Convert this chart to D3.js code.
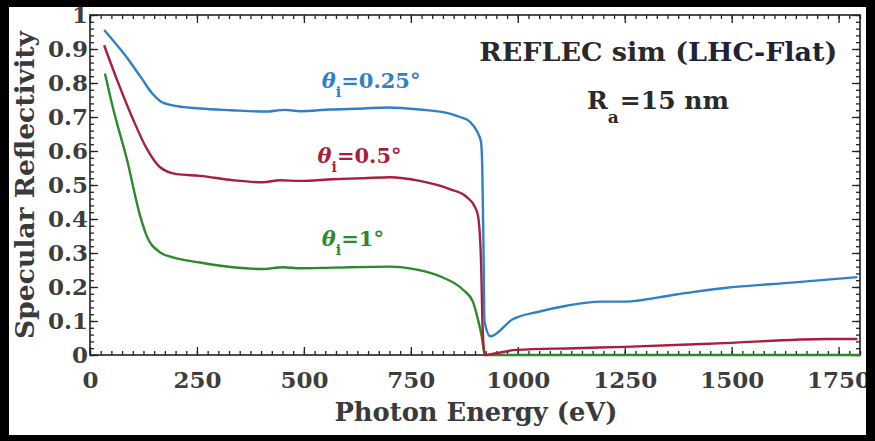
<!DOCTYPE html>
<html>
<head>
<meta charset="utf-8">
<script src="https://cdn.jsdelivr.net/npm/d3@7"></script>
<style>
body { margin: 0; background: #000; }
svg text { font-family: "DejaVu Serif", serif; font-weight: bold; }
</style>
</head>
<body>
<div id="graph"></div>
<script>
// values (photon energy in eV, reflectivity 0..1)
var energy025 = [33, 80, 120, 145, 163, 190, 257, 330, 409, 456, 491, 561, 640, 694, 771, 841, 865, 888, 905, 914, 917, 920, 922, 936, 988, 1051, 1114, 1192, 1250, 1370, 1484, 1640, 1794];
var refl025   = [0.956, 0.885, 0.815, 0.77, 0.748, 0.735, 0.725, 0.72, 0.716, 0.721, 0.717, 0.722, 0.725, 0.728, 0.722, 0.71, 0.70, 0.686, 0.657, 0.627, 0.55, 0.3, 0.1, 0.055, 0.105, 0.128, 0.145, 0.157, 0.157, 0.178, 0.197, 0.213, 0.229];

var energy05 = [33, 63, 100, 133, 163, 203, 257, 334, 404, 444, 491, 568, 640, 701, 771, 841, 881, 900, 907, 914, 918, 923, 940, 997, 1133, 1250, 1484, 1724, 1794];
var refl05   = [0.911, 0.81, 0.695, 0.606, 0.553, 0.532, 0.527, 0.514, 0.508, 0.514, 0.512, 0.517, 0.52, 0.523, 0.512, 0.488, 0.464, 0.435, 0.41, 0.28, 0.074, 0.0, 0.003, 0.015, 0.02, 0.024, 0.035, 0.047, 0.047];

var energy1 = [35, 54, 86, 117, 133, 164, 194, 257, 334, 404, 451, 491, 568, 701, 764, 825, 872, 895, 907, 916, 923, 1000, 1200, 1400, 1600, 1800];
var refl1   = [0.828, 0.725, 0.577, 0.41, 0.349, 0.302, 0.287, 0.272, 0.258, 0.253, 0.258, 0.255, 0.257, 0.26, 0.251, 0.228, 0.192, 0.157, 0.104, 0.053, 0, 0, 0, 0, 0, 0];

var xTicks = [0, 250, 500, 750, 1000, 1250, 1500, 1750];
var yTicks = [0, 0.1, 0.2, 0.3, 0.4, 0.5, 0.6, 0.7, 0.8, 0.9, 1];

var seriesNames = ["1", "0.5", "0.25"];   // incidence angle, degrees
var seriesColors = ["#2b8a2b", "#a81f3d", "#2f80c8"];

var W = 875, H = 441;
var plotL = 90, plotR = 860, plotT = 15, plotB = 355;

var svg = d3.select("#graph").append("svg")
        .attr("width", W)
        .attr("height", H);

svg.append("rect").attr("width", W).attr("height", H).attr("fill", "#000");

svg.append("clipPath").attr("id", "paper")
        .append("rect").attr("x", 9).attr("y", 7).attr("width", 857).attr("height", 428);

var g = svg.append("g").attr("clip-path", "url(#paper)");
g.append("rect").attr("x", 9).attr("y", 7).attr("width", 857).attr("height", 428).attr("fill", "#fff");

var x = d3.scaleLinear().domain([0, 1800]).range([plotL, plotR]);
var y = d3.scaleLinear().domain([0, 1]).range([plotB, plotT]);

var xMinor = d3.range(0, 1801, 25);
var yMinor = d3.range(0, 51).map(function (i) { return i * 0.02; });

// minor ticks on all four sides
function minor(axis, tx, ty) {
    g.append("g").attr("class", "minor")
            .attr("transform", "translate(" + tx + "," + ty + ")")
            .call(axis.tickSizeInner(-4).tickSizeOuter(0).tickFormat(""));
}
minor(d3.axisBottom(x).tickValues(xMinor), 0, plotB);
minor(d3.axisTop(x).tickValues(xMinor), 0, plotT);
minor(d3.axisLeft(y).tickValues(yMinor), plotL, 0);
minor(d3.axisRight(y).tickValues(yMinor), plotR, 0);

var fmt = d3.format("~g");

g.append("g").attr("class", "major")
        .attr("transform", "translate(0," + plotB + ")")
        .call(d3.axisBottom(x).tickValues(xTicks).tickSizeInner(-8).tickSizeOuter(0).tickPadding(17).tickFormat(fmt));
g.append("g").attr("class", "major")
        .attr("transform", "translate(0," + plotT + ")")
        .call(d3.axisTop(x).tickValues(xTicks).tickSizeInner(-8).tickSizeOuter(0).tickFormat(""));
g.append("g").attr("class", "major")
        .attr("transform", "translate(" + plotL + ",0)")
        .call(d3.axisLeft(y).tickValues(yTicks).tickSizeInner(-8).tickSizeOuter(0).tickPadding(2).tickFormat(fmt));
g.append("g").attr("class", "major")
        .attr("transform", "translate(" + plotR + ",0)")
        .call(d3.axisRight(y).tickValues(yTicks).tickSizeInner(-8).tickSizeOuter(0).tickFormat(""));

g.selectAll(".minor .domain, .major .domain").remove();
g.selectAll(".minor line, .major line").attr("stroke", "#222").attr("stroke-width", 1.3);
g.selectAll(".major text")
        .attr("fill", "#3d3d3d")
        .style("font-size", "23px")
        .style("font-family", "'DejaVu Serif', serif");

g.append("rect")
        .attr("x", plotL).attr("y", plotT)
        .attr("width", plotR - plotL).attr("height", plotB - plotT)
        .attr("fill", "none").attr("stroke", "#222").attr("stroke-width", 1.6);

// the three curves, green first so blue sits on top
var line = d3.line()
        .x(function (d) { return x(d[0]); })
        .y(function (d) { return y(d[1]); })
        .curve(d3.curveMonotoneX);

var series = [d3.zip(energy1, refl1), d3.zip(energy05, refl05), d3.zip(energy025, refl025)];
series.forEach(function (pts, i) {
    g.append("path")
            .datum(pts)
            .attr("fill", "none")
            .attr("stroke", seriesColors[i])
            .attr("stroke-width", 2.4)
            .attr("stroke-linejoin", "round")
            .attr("d", line);
});

// curve labels, placed in data units
var labelE = [542, 532, 542];
var labelR = [0.32, 0.565, 0.785];
seriesNames.forEach(function (name, i) {
    var t = g.append("text")
            .attr("x", x(labelE[i]))
            .attr("y", y(labelR[i]))
            .attr("fill", seriesColors[i])
            .style("font-size", "21px");
    t.append("tspan").text("θ").style("font-style", "italic");
    t.append("tspan").text("i").attr("dy", 9).style("font-size", "14px");
    t.append("tspan").text("=" + name + "°").attr("dy", -9);
});

// annotation text in the upper right
var note = g.append("text")
        .attr("x", x(910))
        .attr("y", y(0.865))
        .attr("fill", "#2a2a2a")
        .attr("textLength", 358)
        .attr("lengthAdjust", "spacingAndGlyphs")
        .style("font-size", "26px");
note.append("tspan").text("REFLEC sim (");
note.append("tspan").text("LHC-Flat").attr("fill", "#1c2238");
note.append("tspan").text(")");

var ra = g.append("text")
        .attr("x", x(1162))
        .attr("y", y(0.725))
        .attr("fill", "#2a2a2a")
        .style("font-size", "25px");
ra.append("tspan").text("R");
ra.append("tspan").text("a").attr("dy", 14).style("font-size", "17px");
ra.append("tspan").text("=15 nm").attr("dy", -14).attr("dx", 1);

// axis titles
g.append("text")
        .attr("x", (plotL + plotR) / 2 + 1)
        .attr("y", 421)
        .attr("text-anchor", "middle")
        .attr("fill", "#3a3a3a")
        .attr("textLength", 283)
        .attr("lengthAdjust", "spacingAndGlyphs")
        .style("font-size", "26px")
        .text("Photon Energy (eV)");

g.append("text")
        .attr("transform", "translate(34," + (plotT + plotB) / 2 + ")rotate(-90)")
        .attr("text-anchor", "middle")
        .attr("fill", "#3a3a3a")
        .attr("textLength", 308)
        .attr("lengthAdjust", "spacingAndGlyphs")
        .style("font-size", "26px")
        .text("Specular Reflectivity");
</script>
</body>
</html>
